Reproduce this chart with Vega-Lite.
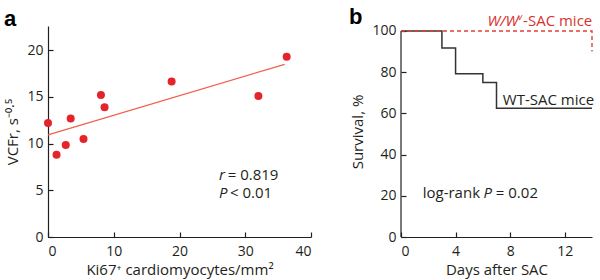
{
  "$schema": "https://vega.github.io/schema/vega-lite/v6.json",
  "padding": {"left": 3, "top": 6, "right": 2, "bottom": 3},
  "bounds": "flush",
  "spacing": 90,
  "config": {
    "font": "Open Sans",
    "view": {"stroke": null},
    "axis": {
      "grid": false,
      "domainColor": "#231f20",
      "tickColor": "#231f20",
      "labelColor": "#231f20",
      "titleColor": "#231f20",
      "labelFontSize": 14,
      "titleFontSize": 15,
      "titleFontWeight": "normal",
      "tickSize": -5,
      "domainWidth": 1.2,
      "tickWidth": 1.2
    },
    "axisX": {"labelPadding": 12, "titlePadding": 4},
    "axisY": {"labelPadding": 10, "titlePadding": 6},
    "title": {"fontSize": 22, "fontWeight": "bold", "anchor": "start", "color": "#000000", "font": "Liberation Sans"}
  },
  "hconcat": [
    {
      "width": 263,
      "height": 211,
      "title": {"text": "a", "dx": -2, "offset": -5},
      "layer": [
        {
          "data": {"values": [
            {"x": 0.0, "y": 10.95},
            {"x": 36.0, "y": 18.5}
          ]},
          "mark": {"type": "line", "color": "#f0604f", "strokeWidth": 1.3},
          "encoding": {
            "x": {"field": "x", "type": "quantitative", "scale": {"domain": [0, 40], "nice": false},
              "axis": {"values": [0, 10, 20, 30, 40], "title": "Ki67⁺ cardiomyocytes/mm²"}},
            "y": {"field": "y", "type": "quantitative", "scale": {"domain": [0, 22.6], "nice": false},
              "axis": {"values": [0, 5, 10, 15, 20], "title": "VCFr, s⁻⁰·⁵"}}
          }
        },
        {
          "data": {"values": [
            {"x": 0.0, "y": 12.2},
            {"x": 1.3, "y": 8.8},
            {"x": 2.7, "y": 9.85},
            {"x": 3.45, "y": 12.7},
            {"x": 5.4, "y": 10.5},
            {"x": 8.05, "y": 15.2},
            {"x": 8.6, "y": 13.9},
            {"x": 18.8, "y": 16.65},
            {"x": 32.0, "y": 15.1},
            {"x": 36.3, "y": 19.3}
          ]},
          "mark": {"type": "circle", "size": 64, "color": "#e3242b", "opacity": 1},
          "encoding": {
            "x": {"field": "x", "type": "quantitative"},
            "y": {"field": "y", "type": "quantitative"}
          }
        },
        {
          "data": {"values": [
            {"x": 26.0, "y": 6.1, "t": "r"},
            {"x": 26.0, "y": 4.17, "t": "P"}
          ]},
          "mark": {"type": "text", "align": "left", "baseline": "alphabetic", "fontSize": 15, "fontStyle": "italic", "color": "#231f20"},
          "encoding": {
            "x": {"field": "x", "type": "quantitative"},
            "y": {"field": "y", "type": "quantitative"},
            "text": {"field": "t"}
          }
        },
        {
          "data": {"values": [
            {"x": 27.33, "y": 6.1, "t": "= 0.819"},
            {"x": 27.68, "y": 4.17, "t": "< 0.01"}
          ]},
          "mark": {"type": "text", "align": "left", "baseline": "alphabetic", "fontSize": 15, "color": "#231f20"},
          "encoding": {
            "x": {"field": "x", "type": "quantitative"},
            "y": {"field": "y", "type": "quantitative"},
            "text": {"field": "t"}
          }
        }
      ]
    },
    {
      "width": 191,
      "height": 211,
      "title": {"text": "b", "dx": -2, "offset": -16},
      "layer": [
        {
          "data": {"values": [{"day": 0, "s0": 0, "s1": 100}]},
          "mark": {"type": "rule", "color": "#231f20", "strokeWidth": 1.2},
          "encoding": {
            "x": {"field": "day", "type": "quantitative", "scale": {"domain": [0, 14], "nice": false},
              "axis": {"values": [0, 2, 4, 6, 8, 10, 12, 14], "labelExpr": "datum.value % 4 === 0 ? datum.label : ''", "title": "Days after SAC"}},
            "y": {"field": "s0", "type": "quantitative", "scale": {"domain": [0, 102.4], "nice": false},
              "axis": {"values": [0, 20, 40, 60, 80, 100], "domain": false, "title": "Survival, %"}},
            "y2": {"field": "s1"}
          }
        },
        {
          "data": {"values": [
            {"day": 0, "surv": 100},
            {"day": 3, "surv": 91.7},
            {"day": 4, "surv": 79.2},
            {"day": 6, "surv": 75},
            {"day": 7, "surv": 62.5},
            {"day": 14, "surv": 62.5}
          ]},
          "mark": {"type": "line", "interpolate": "step-after", "color": "#333333", "strokeWidth": 1.5},
          "encoding": {
            "x": {"field": "day", "type": "quantitative"},
            "y": {"field": "surv", "type": "quantitative"}
          }
        },
        {
          "data": {"values": [
            {"day": 0, "surv": 100, "step": 1},
            {"day": 14, "surv": 100, "step": 2},
            {"day": 14, "surv": 90, "step": 3}
          ]},
          "mark": {"type": "line", "color": "#e0403a", "strokeWidth": 1.4, "strokeDash": [4, 3]},
          "encoding": {
            "x": {"field": "day", "type": "quantitative"},
            "y": {"field": "surv", "type": "quantitative"},
            "order": {"field": "step", "type": "quantitative"}
          }
        },
        {
          "data": {"values": [
            {"day": 7.46, "surv": 64.1, "t": "WT-SAC mice"},
            {"day": 1.59, "surv": 19.1, "t": "log-rank"},
            {"day": 6.95, "surv": 19.1, "t": "= 0.02"}
          ]},
          "mark": {"type": "text", "align": "left", "baseline": "alphabetic", "fontSize": 15, "color": "#231f20"},
          "encoding": {
            "x": {"field": "day", "type": "quantitative"},
            "y": {"field": "surv", "type": "quantitative"},
            "text": {"field": "t"}
          }
        },
        {
          "data": {"values": [
            {"day": 6.05, "surv": 19.1, "t": "P"}
          ]},
          "mark": {"type": "text", "align": "left", "baseline": "alphabetic", "fontSize": 15, "fontStyle": "italic", "color": "#231f20"},
          "encoding": {
            "x": {"field": "day", "type": "quantitative"},
            "y": {"field": "surv", "type": "quantitative"},
            "text": {"field": "t"}
          }
        },
        {
          "data": {"values": [
            {"day": 8.6, "surv": 102.4, "t": "W/W"}
          ]},
          "mark": {"type": "text", "align": "right", "baseline": "alphabetic", "fontSize": 15, "fontStyle": "italic", "color": "#d6322f"},
          "encoding": {
            "x": {"field": "day", "type": "quantitative"},
            "y": {"field": "surv", "type": "quantitative"},
            "text": {"field": "t"}
          }
        },
        {
          "data": {"values": [
            {"day": 8.58, "surv": 105.2, "t": "v"}
          ]},
          "mark": {"type": "text", "align": "left", "baseline": "alphabetic", "fontSize": 9, "fontStyle": "italic", "color": "#d6322f"},
          "encoding": {
            "x": {"field": "day", "type": "quantitative"},
            "y": {"field": "surv", "type": "quantitative"},
            "text": {"field": "t"}
          }
        },
        {
          "data": {"values": [
            {"day": 8.95, "surv": 102.4, "t": "-SAC mice"}
          ]},
          "mark": {"type": "text", "align": "left", "baseline": "alphabetic", "fontSize": 15, "color": "#d6322f"},
          "encoding": {
            "x": {"field": "day", "type": "quantitative"},
            "y": {"field": "surv", "type": "quantitative"},
            "text": {"field": "t"}
          }
        }
      ]
    }
  ]
}
